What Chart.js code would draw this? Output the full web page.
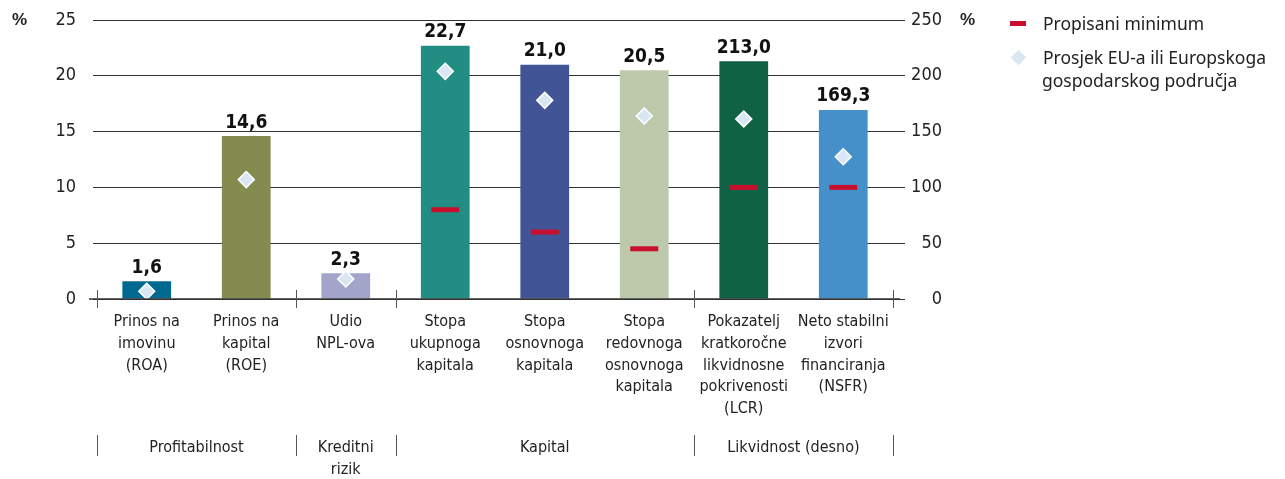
<!DOCTYPE html>
<html>
<head>
<meta charset="utf-8">
<script src="https://cdn.jsdelivr.net/npm/chart.js@4"></script>
<style>
  body { margin: 0; background: #fff; }
  #wrap { position: relative; width: 1285px; height: 479px; }
  .legend { position: absolute; left: 1008px; font-family: "Noto Sans", "Open Sans", sans-serif; font-size: 17.5px; color: #222; line-height: 23px; }
  .pct { position: absolute; top: 10px; font-family: "Liberation Sans", sans-serif; font-weight: bold; font-size: 17px; color: #222; }
</style>
</head>
<body>
<div id="wrap">
  <canvas id="chart" width="1285" height="479"></canvas>
  <div class="pct" style="left:12px">%</div>
  <div class="pct" style="left:960px">%</div>
  <div class="legend" style="top:12px">
    <span style="display:inline-block;width:16px;height:5px;background:#c8102e;vertical-align:middle;margin:0 17px 3px 2px"></span>Propisani minimum
  </div>
  <div class="legend" style="top:46px">
    <span style="display:inline-block;width:11px;height:11px;background:#d9e6f4;transform:rotate(45deg);vertical-align:middle;margin:0 19px 3px 5px"></span>Prosjek EU-a ili Europskoga<br>
    <span style="margin-left:34px">gospodarskog područja</span>
  </div>
</div>
<script>
// --- podaci ---
const categories = [
  ['Prinos na', 'imovinu', '(ROA)'],
  ['Prinos na', 'kapital', '(ROE)'],
  ['Udio', 'NPL-ova'],
  ['Stopa', 'ukupnoga', 'kapitala'],
  ['Stopa', 'osnovnoga', 'kapitala'],
  ['Stopa', 'redovnoga', 'osnovnoga', 'kapitala'],
  ['Pokazatelj', 'kratkoročne', 'likvidnosne', 'pokrivenosti', '(LCR)'],
  ['Neto stabilni', 'izvori', 'financiranja', '(NSFR)']
];
// lijeva os (%)
const valuesLeft  = [1.6, 14.6, 2.3, 22.7, 21.0, 20.5, null, null];
const euLeft      = [0.7, 10.7, 1.8, 20.4, 17.8, 16.4, null, null];
const minLeft     = [null, null, null, 8.0, 6.0, 4.5, null, null];
// desna os (%)
const valuesRight = [null, null, null, null, null, null, 213.0, 169.3];
const euRight     = [null, null, null, null, null, null, 161.3, 127.5];
const minRight    = [null, null, null, null, null, null, 100, 100];

const barColors = ['#00698f', '#838b4e', '#a2a4ca', '#228e83', '#415596', '#bec8ab', '#106245', '#4590c8'];

const groupLabels = [['Profitabilnost'], ['Kreditni', 'rizik'], ['Kapital'], ['Likvidnost (desno)']];
const groupStarts = [0, 2, 3, 6, 8];

const leftTicks = [0, 5, 10, 15, 20, 25];
const rightTicks = [0, 50, 100, 150, 200, 250];

const condensed = '"Liberation Sans Narrow", "DejaVu Sans Condensed", "Liberation Sans", sans-serif';
const fmt = v => v.toFixed(1).replace('.', ',');

// --- plugin: vrijednosti iznad stupaca, os x i grupe ---
const extras = {
  id: 'extras',
  afterDatasetsDraw(chart) {
    const ctx = chart.ctx;
    ctx.save();
    ctx.font = 'bold 19px ' + condensed;
    ctx.fillStyle = '#111';
    ctx.textAlign = 'center';
    ctx.textBaseline = 'bottom';
    [0, 1].forEach(di => {
      const ds = chart.data.datasets[di];
      chart.getDatasetMeta(di).data.forEach((bar, i) => {
        if (ds.data[i] == null) return;
        ctx.fillText(fmt(ds.data[i]), bar.x, bar.y - 4);
      });
    });
    ctx.restore();
  },
  afterDraw(chart) {
    const ctx = chart.ctx;
    const x = chart.scales.x;
    const a = chart.chartArea;
    ctx.save();
    // osnovna linija
    ctx.strokeStyle = '#333';
    ctx.lineWidth = 1.5;
    ctx.beginPath();
    ctx.moveTo(a.left - 8, a.bottom);
    ctx.lineTo(a.right + 7, a.bottom);
    ctx.stroke();
    // razdjelnici grupa
    ctx.strokeStyle = '#555';
    ctx.lineWidth = 1;
    groupStarts.forEach(g => {
      const px = Math.round(x.getPixelForValue(g - 0.5)) + 0.5;
      ctx.beginPath();
      ctx.moveTo(px, a.bottom - 9);
      ctx.lineTo(px, a.bottom + 9);
      ctx.moveTo(px, a.bottom + 136);
      ctx.lineTo(px, a.bottom + 157);
      ctx.stroke();
    });
    // nazivi grupa
    ctx.font = '16px ' + condensed;
    ctx.fillStyle = '#222';
    ctx.textAlign = 'center';
    ctx.textBaseline = 'middle';
    groupLabels.forEach((lines, gi) => {
      const cx = (x.getPixelForValue(groupStarts[gi] - 0.5) + x.getPixelForValue(groupStarts[gi + 1] - 0.5)) / 2;
      lines.forEach((t, li) => ctx.fillText(t, cx, a.bottom + 149 + li * 22));
    });
    ctx.restore();
  }
};

const noPad = s => { s.paddingTop = 0; s.paddingBottom = 0; s.paddingLeft = 0; s.paddingRight = 0; };

const ctx = document.getElementById('chart').getContext('2d');
new Chart(ctx, {
  type: 'bar',
  data: {
    labels: categories,
    datasets: [
      { label: 'lijevo', data: valuesLeft, yAxisID: 'y', backgroundColor: barColors, grouped: false, barPercentage: 0.49, categoryPercentage: 1, order: 2 },
      { label: 'desno', data: valuesRight, yAxisID: 'y2', backgroundColor: barColors, grouped: false, barPercentage: 0.49, categoryPercentage: 1, order: 2 },
      { type: 'line', label: 'Propisani minimum', data: minLeft, yAxisID: 'y', showLine: false, pointStyle: 'line', pointRadius: 14, borderColor: '#c8102e', pointBorderWidth: 5, borderWidth: 5, order: 1 },
      { type: 'line', label: 'Propisani minimum', data: minRight, yAxisID: 'y2', showLine: false, pointStyle: 'line', pointRadius: 14, borderColor: '#c8102e', pointBorderWidth: 5, borderWidth: 5, order: 1 },
      { type: 'line', label: 'Prosjek EU-a', data: euLeft, yAxisID: 'y', showLine: false, pointStyle: 'rectRot', pointRadius: 8, pointBackgroundColor: '#d9e6f4', pointBorderColor: '#ffffff', pointBorderWidth: 1.5, order: 0 },
      { type: 'line', label: 'Prosjek EU-a', data: euRight, yAxisID: 'y2', showLine: false, pointStyle: 'rectRot', pointRadius: 8, pointBackgroundColor: '#d9e6f4', pointBorderColor: '#ffffff', pointBorderWidth: 1.5, order: 0 }
    ]
  },
  options: {
    responsive: false,
    animation: false,
    layout: { autoPadding: false, padding: { top: 20, right: 343, left: 0, bottom: 0 } },
    plugins: { legend: { display: false }, tooltip: { enabled: false } },
    scales: {
      x: {
        grid: { display: false, drawTicks: false },
        border: { display: false },
        ticks: { color: '#222', font: { family: condensed, size: 16, lineHeight: 1.36 }, padding: 12, maxRotation: 0, autoSkip: false },
        afterFit(s) { s.height = 180; noPad(s); }
      },
      y: {
        position: 'left',
        min: 0, max: 25,
        afterBuildTicks(s) { s.ticks = leftTicks.map(v => ({ value: v })); },
        grid: { color: '#333', lineWidth: 1, tickLength: 4 },
        border: { display: false },
        ticks: { color: '#222', font: { family: condensed, size: 18 }, padding: 17 },
        afterFit(s) { s.width = 97; noPad(s); }
      },
      y2: {
        position: 'right',
        min: 0, max: 250,
        afterBuildTicks(s) { s.ticks = rightTicks.map(v => ({ value: v })); },
        grid: { drawOnChartArea: false, color: '#333', tickLength: 12 },
        border: { display: false },
        ticks: { color: '#222', font: { family: condensed, size: 18 }, padding: 8, crossAlign: 'far' },
        afterFit(s) { s.width = 49; noPad(s); }
      }
    }
  },
  plugins: [extras]
});
</script>
</body>
</html>
